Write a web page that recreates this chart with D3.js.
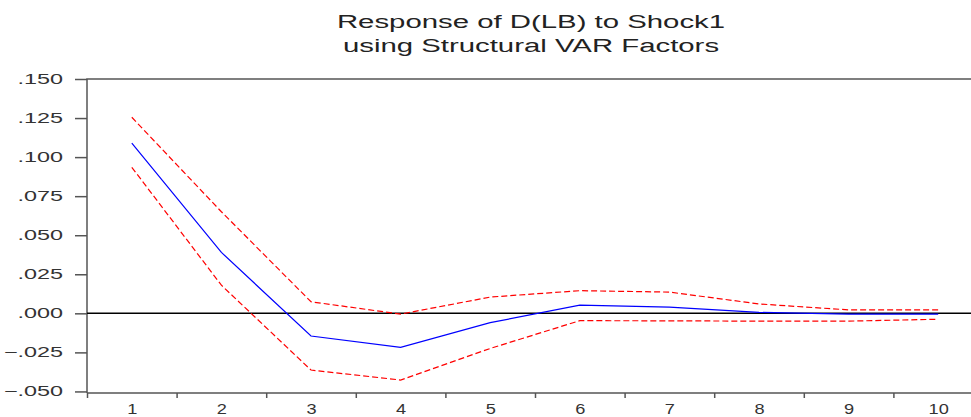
<!DOCTYPE html>
<html>
<head>
<meta charset="utf-8">
<style>
     body {
          margin: 0;
          background: white;
          font-family: "Liberation Sans", Arial, sans-serif;
     }
     .frame {
          stroke: #555;
          stroke-width: 1.5px;
          fill: none;
     }
     .axis text {
          fill: #333;
          font-size: 14px;
     }
     .axis path {
          display: none;
     }
     .axis line {
          stroke: #555;
          stroke-width: 1.5px;
     }
     .title {
          fill: #222;
          font-size: 18px;
          text-anchor: middle;
     }
</style>
</head>
<body>
<script src="https://cdn.jsdelivr.net/npm/d3@7"></script>
<script>

     // impulse response periods and values
     var periods = [1, 2, 3, 4, 5, 6, 7, 8, 9, 10];
     var response = [0.109, 0.039, -0.0145, -0.0218, -0.006, 0.0052, 0.0040, 0.0006, -0.0005, -0.0005];
     var upperBand = [0.1255, 0.065, 0.0074, -0.0005, 0.0104, 0.0145, 0.0136, 0.006, 0.0022, 0.0022];
     var lowerBand = [0.0935, 0.018, -0.0363, -0.0427, -0.0225, -0.0047, -0.0048, -0.005, -0.005, -0.0038];
     var yTicks = [-0.05, -0.025, 0, 0.025, 0.05, 0.075, 0.1, 0.125, 0.15];
     var titleLines = ["Response of D(LB) to Shock1", "using Structural VAR Factors"];

     var width = 971, height = 417;
     var plot = {left: 87, top: 79, bottom: 393, right: 983};

     var svg = d3.select("body").append("svg")
          .attr("width", width)
          .attr("height", height);

     var x = d3.scaleLinear()
          .domain([0.5, 10.5])
          .range([plot.left, plot.right]);

     var y = d3.scaleLinear()
          .domain([-0.051, 0.15])
          .range([plot.bottom, plot.top]);

     // stretch text horizontally, the original has wide glyphs
     function stretch(sel, k) {
          sel.each(function() {
               var w = this.getComputedTextLength();
               d3.select(this)
                    .attr("textLength", w * k)
                    .attr("lengthAdjust", "spacingAndGlyphs");
          });
     }

     var fmt = function(d) {
          return d3.format(".3f")(d).replace("0.", ".");
     };

     // y axis
     var yAxis = svg.append("g")
          .attr("class", "y axis")
          .attr("transform", "translate(" + plot.left + ",0)")
          .call(d3.axisLeft(y).tickValues(yTicks).tickSize(12).tickPadding(12).tickFormat(fmt));
     stretch(yAxis.selectAll("text"), 1.67);

     // x ticks between periods
     svg.append("g")
          .attr("class", "x axis")
          .attr("transform", "translate(0," + plot.bottom + ")")
          .call(d3.axisBottom(x)
               .tickValues(d3.range(0.5, 10.5, 1))
               .tickSize(5)
               .tickFormat(""));

     // x labels at period centres
     var xLabels = svg.append("g")
          .attr("class", "x axis")
          .attr("transform", "translate(0," + plot.bottom + ")")
          .call(d3.axisBottom(x).tickValues(periods).tickSize(0).tickPadding(11).tickFormat(d3.format("d")));
     stretch(xLabels.selectAll("text"), 1.3);

     // frame: left and top edges, bottom axis line
     svg.append("path")
          .attr("class", "frame")
          .attr("d", "M" + plot.left + "," + plot.bottom + "V" + plot.top + "H" + plot.right);
     svg.append("line")
          .attr("class", "frame")
          .attr("x1", plot.left).attr("x2", plot.right)
          .attr("y1", plot.bottom).attr("y2", plot.bottom);

     // zero line
     svg.append("line")
          .attr("x1", plot.left).attr("x2", plot.right)
          .attr("y1", y(0)).attr("y2", y(0))
          .attr("stroke", "black")
          .attr("stroke-width", 1.5);

     var line = d3.line()
          .x(function(d, i) { return x(periods[i]); })
          .y(function(d) { return y(d); });

     svg.append("path")
          .datum(upperBand)
          .attr("d", line)
          .attr("fill", "none")
          .attr("stroke", "#ff0000")
          .attr("stroke-width", 1.2)
          .attr("stroke-dasharray", "6,3");

     svg.append("path")
          .datum(lowerBand)
          .attr("d", line)
          .attr("fill", "none")
          .attr("stroke", "#ff0000")
          .attr("stroke-width", 1.2)
          .attr("stroke-dasharray", "6,3");

     svg.append("path")
          .datum(response)
          .attr("d", line)
          .attr("fill", "none")
          .attr("stroke", "#0000ff")
          .attr("stroke-width", 1.2);

     // title
     var title = svg.selectAll(".title")
          .data(titleLines)
       .enter().append("text")
          .attr("class", "title")
          .attr("x", 531)
          .attr("y", function(d, i) { return 28 + i * 24; })
          .text(function(d) { return d; });
     stretch(title, 1.63);

</script>
</body>
</html>
